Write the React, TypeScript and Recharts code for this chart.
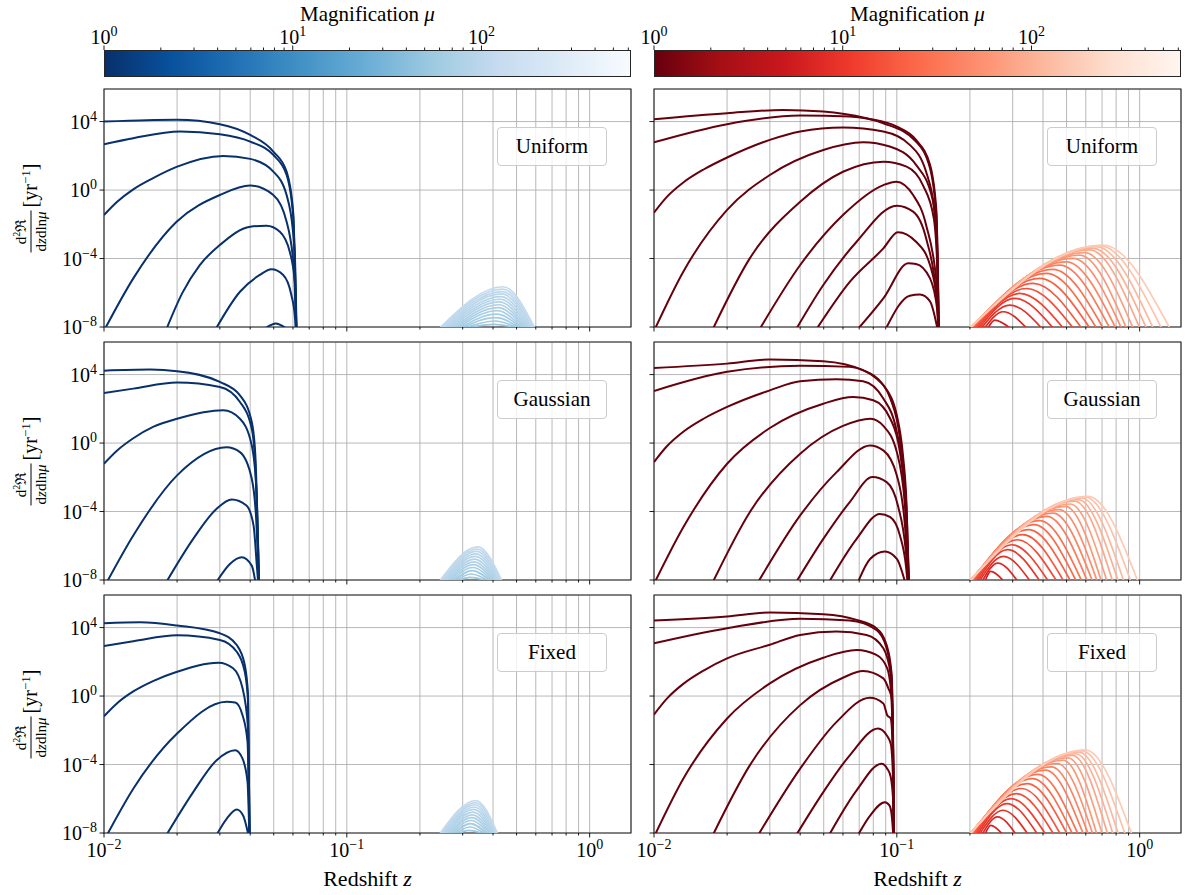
import {
  CartesianGrid,
  Line,
  LineChart,
  ReferenceArea,
  XAxis,
  YAxis,
} from "recharts";

// [redshift z, log10 of the differential rate]
type Pt = [number, number];
// [z where the arc leaves the floor, z of the peak, log10 peak, z where it returns]
type Arc = [number, number, number, number];

const Z_TICKS = [
  0.01, 0.02, 0.03, 0.04, 0.05, 0.06, 0.07, 0.08, 0.09, 0.1, 0.2, 0.3, 0.4,
  0.5, 0.6, 0.7, 0.8, 0.9, 1,
];
const RATE_TICKS = [1e-8, 1e-4, 1, 1e4];
const MU_TICKS = [
  1, 2, 3, 4, 5, 6, 7, 8, 9, 10, 20, 30, 40, 50, 60, 70, 80, 90, 100, 200, 300,
  400, 500, 600,
];
const Z_DOMAIN: [number, number] = [0.01, 1.48];
const RATE_DOMAIN: [number, number] = [1e-8, 8e5];
const MU_DOMAIN: [number, number] = [1, 620];
const FLOOR = -8.05;

// ---- low-magnification curves (dark) ----
const BLUE_UNIFORM: Pt[][] = [
  [[0.01, 4.0], [0.015, 4.08], [0.02, 4.1], [0.03, 3.85], [0.04, 3.22], [0.0498, 2.25], [0.0565, 1.08], [0.0601, -1.26], [0.0621, -9]],
  [[0.01, 2.68], [0.0132, 3.03], [0.0206, 3.42], [0.03, 3.26], [0.04, 2.83], [0.0498, 2.05], [0.0565, 0.88], [0.0601, -1.5], [0.0621, -9]],
  [[0.01, -1.46], [0.0113, -0.7], [0.0132, 0.04], [0.016, 0.71], [0.0199, 1.35], [0.031, 1.99], [0.04, 1.82], [0.0498, 1.08], [0.0565, -0.29], [0.061, -3.6], [0.0622, -9]],
  [[0.0101, -8.1], [0.0132, -5.16], [0.0199, -1.85], [0.03, -0.29], [0.04, 0.26], [0.0498, -0.29], [0.0565, -1.85], [0.0605, -4.56], [0.0622, -9]],
  [[0.0181, -8.1], [0.021, -6.02], [0.0248, -4.38], [0.03, -3.21], [0.04, -2.14], [0.0467, -2.08], [0.053, -2.43], [0.0582, -3.6], [0.0612, -5.5], [0.0622, -9]],
  [[0.0289, -8.1], [0.0363, -5.94], [0.0438, -4.96], [0.0489, -4.63], [0.0547, -4.96], [0.0591, -6.13], [0.0612, -7.5], [0.062, -9]],
  [[0.0459, -8.1], [0.051, -7.79], [0.0565, -8.1]],
];

const RED_UNIFORM: Pt[][] = [
  [[0.01, 4.14], [0.02, 4.49], [0.034, 4.68], [0.0498, 4.59], [0.075, 4.2], [0.1, 3.71], [0.12, 2.93], [0.137, 1.47], [0.1456, -1.26], [0.149, -9]],
  [[0.01, 2.79], [0.02, 3.85], [0.04, 4.35], [0.064, 4.3], [0.088, 3.9], [0.12, 2.83], [0.137, 1.27], [0.1456, -1.65], [0.149, -9]],
  [[0.01, -1.32], [0.0113, -0.4], [0.0132, 0.44], [0.016, 1.2], [0.02, 1.9], [0.03, 2.93], [0.04, 3.42], [0.06, 3.65], [0.088, 3.42], [0.113, 2.64], [0.132, 1.07], [0.145, -2.0], [0.149, -9]],
  [[0.0101, -8.1], [0.0132, -4.77], [0.02, -1.16], [0.03, 0.88], [0.0498, 2.34], [0.0726, 2.79], [0.0935, 2.54], [0.12, 1.47], [0.14, -0.48], [0.147, -3.6], [0.149, -9]],
  [[0.0175, -8.1], [0.0248, -3.99], [0.04, -0.68], [0.06, 1.07], [0.088, 1.66], [0.1097, 1.37], [0.128, 0.29], [0.142, -1.65], [0.147, -4.77], [0.149, -9]],
  [[0.0273, -8.1], [0.04, -4.38], [0.06, -1.46], [0.088, 0.29], [0.0994, 0.49], [0.1167, -0.29], [0.132, -2.04], [0.146, -5.55], [0.149, -9]],
  [[0.0386, -8.1], [0.0498, -5.55], [0.0683, -3.02], [0.1, -0.91], [0.1167, -1.26], [0.132, -2.82], [0.146, -6.33], [0.149, -9]],
  [[0.0468, -8.1], [0.064, -5.36], [0.088, -3.41], [0.101, -2.46], [0.12, -3.02], [0.137, -4.38], [0.147, -6.72], [0.149, -9]],
  [[0.0693, -8.1], [0.088, -6.33], [0.1114, -4.28], [0.12, -4.32], [0.137, -5.16], [0.147, -7.1], [0.149, -9]],
  [[0.0901, -8.1], [0.113, -6.17], [0.1245, -6.1], [0.137, -6.5], [0.147, -8.1]],
];

const BLUE_GAUSSIAN: Pt[][] = [
  [[0.01, 4.23], [0.0155, 4.29], [0.02, 4.2], [0.03, 3.57], [0.0363, 2.79], [0.0406, 1.23], [0.042, -0.72], [0.0436, -9]],
  [[0.01, 2.93], [0.0132, 3.18], [0.02, 3.53], [0.03, 3.28], [0.0363, 2.4], [0.0406, 0.84], [0.042, -1.31], [0.0436, -9]],
  [[0.01, -1.21], [0.0113, -0.45], [0.0132, 0.28], [0.016, 0.96], [0.02, 1.42], [0.031, 1.91], [0.0363, 1.42], [0.0406, -0.14], [0.0424, -2.67], [0.0436, -9]],
  [[0.0103, -8.1], [0.0132, -5.4], [0.02, -1.89], [0.032, -0.25], [0.0363, -0.53], [0.0406, -2.09], [0.0424, -4.62], [0.0436, -9]],
  [[0.0181, -8.1], [0.0233, -5.6], [0.0291, -3.84], [0.0336, -3.3], [0.0386, -3.65], [0.0413, -4.82], [0.0426, -7.16], [0.0436, -9]],
  [[0.0291, -8.1], [0.033, -7.06], [0.0369, -6.67], [0.0406, -7.16], [0.042, -8.1]],
];

const RED_GAUSSIAN: Pt[][] = [
  [[0.01, 4.39], [0.02, 4.64], [0.03, 4.88], [0.0498, 4.78], [0.0726, 4.25], [0.088, 3.38], [0.1, 1.62], [0.106, -0.72], [0.1097, -3.65], [0.1125, -9]],
  [[0.01, 3.04], [0.02, 4.16], [0.04, 4.51], [0.064, 4.45], [0.0824, 3.77], [0.094, 2.6], [0.103, 0.25], [0.1097, -4.04], [0.1125, -9]],
  [[0.01, -1.11], [0.0113, -0.19], [0.0132, 0.66], [0.016, 1.42], [0.02, 2.11], [0.03, 3.08], [0.04, 3.61], [0.0565, 3.73], [0.0726, 3.61], [0.088, 2.6], [0.1, 0.64], [0.108, -2.87], [0.1125, -9]],
  [[0.0101, -8.1], [0.0132, -4.92], [0.02, -1.21], [0.03, 0.88], [0.0498, 2.3], [0.066, 2.69], [0.08, 2.5], [0.094, 1.42], [0.103, -0.53], [0.109, -4.04], [0.1125, -9]],
  [[0.0175, -8.1], [0.0248, -4.04], [0.04, -0.62], [0.06, 1.0], [0.078, 1.42], [0.088, 1.0], [0.1, -0.53], [0.108, -3.65], [0.1125, -9]],
  [[0.0269, -8.1], [0.04, -4.23], [0.0565, -1.7], [0.0776, -0.14], [0.088, -0.43], [0.1, -1.89], [0.108, -4.82], [0.1125, -9]],
  [[0.0386, -8.1], [0.0498, -5.6], [0.064, -3.45], [0.0794, -1.99], [0.0908, -2.28], [0.101, -3.65], [0.109, -6.38], [0.1125, -9]],
  [[0.0527, -8.1], [0.0683, -5.6], [0.0851, -4.14], [0.094, -4.33], [0.103, -5.4], [0.109, -7.16], [0.112, -9]],
  [[0.0693, -8.1], [0.0776, -6.77], [0.0893, -6.34], [0.1, -6.77], [0.108, -8.1]],
];

const BLUE_FIXED: Pt[][] = [
  [[0.01, 4.25], [0.0141, 4.31], [0.02, 4.12], [0.03, 3.67], [0.0352, 2.98], [0.038, 1.81], [0.0392, 0.05], [0.0398, -9]],
  [[0.01, 2.93], [0.0132, 3.2], [0.02, 3.55], [0.03, 3.28], [0.0352, 2.59], [0.038, 1.42], [0.0392, -0.34], [0.0398, -9]],
  [[0.01, -1.18], [0.0113, -0.43], [0.0132, 0.27], [0.016, 0.89], [0.02, 1.42], [0.0296, 1.95], [0.034, 1.62], [0.0372, 0.45], [0.0392, -1.9], [0.0398, -9]],
  [[0.0103, -8.1], [0.0132, -5.41], [0.02, -2.19], [0.032, -0.34], [0.0347, -0.38], [0.0372, -1.12], [0.039, -2.68], [0.0398, -9]],
  [[0.0181, -8.1], [0.0233, -5.61], [0.0291, -3.75], [0.0347, -3.17], [0.0372, -3.66], [0.039, -5.02], [0.0398, -9]],
  [[0.0291, -8.1], [0.032, -7.17], [0.0352, -6.63], [0.0374, -6.98], [0.0393, -8.1]],
];

const RED_FIXED: Pt[][] = [
  [[0.01, 4.41], [0.02, 4.65], [0.03, 4.88], [0.0498, 4.78], [0.0683, 4.45], [0.0824, 3.96], [0.0908, 2.98], [0.0953, 1.23], [0.0975, -9]],
  [[0.01, 3.08], [0.02, 3.96], [0.04, 4.51], [0.064, 4.41], [0.0824, 3.86], [0.0908, 2.79], [0.0953, 0.84], [0.0975, -9]],
  [[0.01, -1.08], [0.0113, -0.15], [0.0132, 0.71], [0.016, 1.49], [0.02, 2.2], [0.03, 3.0], [0.04, 3.57], [0.0565, 3.77], [0.075, 3.57], [0.088, 2.79], [0.0944, 1.23], [0.0962, -1.5], [0.0975, -9]],
  [[0.0101, -8.1], [0.0132, -4.83], [0.02, -1.31], [0.03, 0.74], [0.0498, 2.24], [0.0683, 2.69], [0.0824, 2.4], [0.0913, 1.62], [0.0944, 0.45], [0.0962, -2.48], [0.0975, -9]],
  [[0.0175, -8.1], [0.0248, -4.05], [0.04, -0.53], [0.06, 1.07], [0.0726, 1.46], [0.088, 1.03], [0.0923, 0.45], [0.0953, -0.14], [0.0968, -3.46], [0.0975, -9]],
  [[0.0269, -8.1], [0.04, -4.24], [0.0565, -1.51], [0.0774, -0.1], [0.088, -0.43], [0.0913, -1.12], [0.0944, -1.31], [0.0968, -4.63], [0.0975, -9]],
  [[0.0386, -8.1], [0.0498, -5.61], [0.064, -3.46], [0.0837, -1.9], [0.0908, -2.29], [0.0944, -2.78], [0.0968, -5.41], [0.0975, -9]],
  [[0.0527, -8.1], [0.0683, -5.51], [0.0865, -3.95], [0.0913, -4.24], [0.0944, -4.73], [0.0968, -6.39], [0.0975, -9]],
  [[0.0693, -8.1], [0.0776, -6.98], [0.0893, -6.2], [0.0932, -6.39], [0.0953, -6.98], [0.0975, -9]],
];

// ---- high-magnification arcs (light) ----
const BLUE_UNIFORM_ARCS: Arc[] = [
  [0.311, 0.406, -7.85, 0.499],
  [0.305, 0.408, -7.65, 0.505],
  [0.298, 0.41, -7.45, 0.512],
  [0.292, 0.413, -7.25, 0.52],
  [0.286, 0.416, -7.05, 0.527],
  [0.28, 0.419, -6.87, 0.535],
  [0.274, 0.422, -6.7, 0.543],
  [0.268, 0.425, -6.53, 0.551],
  [0.262, 0.428, -6.38, 0.559],
  [0.257, 0.431, -6.22, 0.566],
  [0.252, 0.434, -6.07, 0.574],
  [0.248, 0.436, -5.93, 0.581],
  [0.244, 0.438, -5.79, 0.588],
  [0.2415, 0.44, -5.65, 0.594],
];

const BLUE_GAUSSIAN_ARCS: Arc[] = [
  [0.287, 0.322, -7.85, 0.378],
  [0.281, 0.325, -7.65, 0.384],
  [0.276, 0.328, -7.45, 0.39],
  [0.271, 0.33, -7.27, 0.396],
  [0.266, 0.332, -7.1, 0.402],
  [0.261, 0.334, -6.94, 0.408],
  [0.257, 0.336, -6.78, 0.413],
  [0.253, 0.338, -6.62, 0.418],
  [0.25, 0.34, -6.47, 0.423],
  [0.247, 0.342, -6.33, 0.427],
  [0.244, 0.344, -6.2, 0.431],
  [0.2415, 0.346, -6.07, 0.435],
];

const BLUE_FIXED_ARCS: Arc[] = [
  [0.287, 0.318, -7.85, 0.366],
  [0.281, 0.321, -7.65, 0.371],
  [0.276, 0.323, -7.45, 0.377],
  [0.271, 0.325, -7.27, 0.383],
  [0.266, 0.327, -7.1, 0.389],
  [0.261, 0.329, -6.94, 0.394],
  [0.257, 0.331, -6.78, 0.399],
  [0.253, 0.333, -6.62, 0.403],
  [0.25, 0.335, -6.48, 0.407],
  [0.247, 0.337, -6.35, 0.411],
  [0.244, 0.339, -6.22, 0.415],
  [0.2415, 0.34, -6.1, 0.418],
];

const RED_UNIFORM_ARCS: Arc[] = [
  [0.2375, 0.2531, -7.6, 0.2917],
  [0.23, 0.274, -7.11, 0.3418],
  [0.2231, 0.2917, -6.72, 0.3938],
  [0.2183, 0.306, -6.33, 0.4397],
  [0.214, 0.3208, -6.04, 0.4836],
  [0.2107, 0.3418, -5.75, 0.5317],
  [0.208, 0.364, -5.45, 0.5754],
  [0.206, 0.3877, -5.16, 0.6226],
  [0.2047, 0.413, -4.87, 0.6633],
  [0.2035, 0.4397, -4.63, 0.7065],
  [0.2022, 0.4686, -4.38, 0.7524],
  [0.2016, 0.4991, -4.19, 0.7966],
  [0.201, 0.5317, -3.99, 0.8405],
  [0.2003, 0.5663, -3.8, 0.881],
  [0.2, 0.5937, -3.66, 0.9384],
  [0.2, 0.6226, -3.5, 1.0],
  [0.2, 0.6427, -3.41, 1.065],
  [0.2, 0.6633, -3.31, 1.135],
  [0.2, 0.6846, -3.25, 1.228],
  [0.2, 0.7065, -3.21, 1.329],
];

const RED_GAUSSIAN_ARCS: Arc[] = [
  [0.2311, 0.2436, -7.5, 0.2747],
  [0.225, 0.2603, -7.01, 0.3137],
  [0.2192, 0.2747, -6.62, 0.3534],
  [0.2153, 0.2858, -6.23, 0.3878],
  [0.2117, 0.2972, -5.94, 0.42],
  [0.209, 0.3137, -5.65, 0.4547],
  [0.2067, 0.3307, -5.35, 0.4859],
  [0.205, 0.3487, -5.06, 0.5191],
  [0.2039, 0.3677, -4.77, 0.5475],
  [0.2029, 0.3878, -4.53, 0.5772],
  [0.2018, 0.415, -4.28, 0.6086],
  [0.2013, 0.44, -4.09, 0.6385],
  [0.2008, 0.467, -3.89, 0.6678],
  [0.2003, 0.495, -3.7, 0.695],
  [0.2, 0.518, -3.56, 0.7328],
  [0.2, 0.542, -3.4, 0.7731],
  [0.2, 0.559, -3.31, 0.815],
  [0.2, 0.577, -3.21, 0.8597],
  [0.2, 0.596, -3.15, 0.9186],
  [0.2, 0.615, -3.11, 0.9815],
];

const RED_FIXED_ARCS: Arc[] = [
  [0.2311, 0.2436, -7.55, 0.2716],
  [0.225, 0.2597, -7.06, 0.3085],
  [0.2192, 0.2736, -6.67, 0.3459],
  [0.2153, 0.2842, -6.28, 0.3788],
  [0.2117, 0.2952, -5.99, 0.4092],
  [0.209, 0.3109, -5.7, 0.4418],
  [0.2067, 0.3271, -5.4, 0.4711],
  [0.205, 0.3444, -5.11, 0.5023],
  [0.2039, 0.3625, -4.82, 0.5288],
  [0.2029, 0.3817, -4.58, 0.5566],
  [0.2018, 0.41, -4.33, 0.5858],
  [0.2013, 0.433, -4.14, 0.6136],
  [0.2008, 0.458, -3.94, 0.6408],
  [0.2003, 0.485, -3.75, 0.6659],
  [0.2, 0.507, -3.61, 0.7008],
  [0.2, 0.529, -3.46, 0.7378],
  [0.2, 0.546, -3.37, 0.7762],
  [0.2, 0.563, -3.27, 0.8169],
  [0.2, 0.58, -3.2, 0.8705],
  [0.2, 0.598, -3.15, 0.9275],
];

// matplotlib Blues_r / Reds_r
const BLUES_R = ["#08306b", "#08519c", "#2171b5", "#4292c6", "#6baed6", "#9ecae1", "#c6dbef", "#deebf7", "#f7fbff"];
const REDS_R = ["#67000d", "#a50f15", "#cb181d", "#ef3b2c", "#fb6a4a", "#fc9272", "#fcbba1", "#fee0d2", "#fff5f0"];

const FONT = '"Liberation Serif", "Times New Roman", "DejaVu Serif", serif';
const COL_X = [104, 654];
const ROW_Y = [89, 342, 595];
const PW = 527;
const PH = 238;
const Y_W = 100;
const M_TOP = 4;
const M_RIGHT = 4;
const CB_TOP = 50;
const CB_H = 27;

const hex = (c: string) => [1, 3, 5].map((i) => parseInt(c.slice(i, i + 2), 16));
function sample(stops: string[], t: number) {
  const p = Math.max(0, Math.min(1, t)) * (stops.length - 1);
  const i = Math.min(Math.floor(p), stops.length - 2);
  const f = p - i;
  const a = hex(stops[i]);
  const b = hex(stops[i + 1]);
  const c = a.map((v, k) => Math.round(v + (b[k] - v) * f));
  return `rgb(${c[0]},${c[1]},${c[2]})`;
}

const toRows = (pts: Pt[]) => pts.map(([z, e]) => ({ z, v: Math.pow(10, e) }));
const arcRows = ([z0, zp, ep, z1]: Arc) =>
  toRows([
    [z0, FLOOR],
    [zp, ep],
    [z1, FLOOR],
  ]);

const PANELS = [
  { col: 0, row: 0, name: "Uniform", curves: BLUE_UNIFORM, arcs: BLUE_UNIFORM_ARCS, stops: BLUES_R, dark: "#08306b", t0: 0.62, t1: 0.74 },
  { col: 1, row: 0, name: "Uniform", curves: RED_UNIFORM, arcs: RED_UNIFORM_ARCS, stops: REDS_R, dark: "#67000d", t0: 0.28, t1: 0.8 },
  { col: 0, row: 1, name: "Gaussian", curves: BLUE_GAUSSIAN, arcs: BLUE_GAUSSIAN_ARCS, stops: BLUES_R, dark: "#08306b", t0: 0.62, t1: 0.74 },
  { col: 1, row: 1, name: "Gaussian", curves: RED_GAUSSIAN, arcs: RED_GAUSSIAN_ARCS, stops: REDS_R, dark: "#67000d", t0: 0.28, t1: 0.8 },
  { col: 0, row: 2, name: "Fixed", curves: BLUE_FIXED, arcs: BLUE_FIXED_ARCS, stops: BLUES_R, dark: "#08306b", t0: 0.62, t1: 0.74 },
  { col: 1, row: 2, name: "Fixed", curves: RED_FIXED, arcs: RED_FIXED_ARCS, stops: REDS_R, dark: "#67000d", t0: 0.28, t1: 0.8 },
];

const isDecade = (v: number) => Math.abs(Math.log10(v) - Math.round(Math.log10(v))) < 1e-6;

function Pow10({ v, ...rest }: any) {
  const e = Math.round(Math.log10(v));
  return (
    <text fontFamily={FONT} fontSize={20} fill="#000" {...rest}>
      10
      <tspan dy={-8} fontSize={14}>
        {e < 0 ? `\u2212${-e}` : `${e}`}
      </tspan>
    </text>
  );
}

function ZTick({ x, y, payload, labels }: any) {
  const major = isDecade(payload.value);
  return (
    <g>
      <line x1={x} x2={x} y1={y} y2={y + (major ? 4.5 : 2.5)} stroke="#000" strokeWidth={0.9} />
      {labels && major && <Pow10 v={payload.value} x={x} y={y + 24} textAnchor="middle" />}
    </g>
  );
}

function RateTick({ x, y, payload, labels }: any) {
  return (
    <g>
      <line x1={x - 4.5} x2={x} y1={y} y2={y} stroke="#000" strokeWidth={0.9} />
      {labels && <Pow10 v={payload.value} x={x - 7} y={y + 7} textAnchor="end" />}
    </g>
  );
}

function MuTick({ x, y, payload }: any) {
  const major = isDecade(payload.value);
  return (
    <g>
      <line x1={x} x2={x} y1={y} y2={y - (major ? 4.5 : 2.5)} stroke="#000" strokeWidth={0.9} />
      {major && <Pow10 v={payload.value} x={x} y={y - 6} textAnchor="middle" />}
    </g>
  );
}

function Panel({ p }: { p: (typeof PANELS)[number] }) {
  const bottomRow = p.row === 2;
  const xh = bottomRow ? 40 : 16;
  const n = p.arcs.length;
  return (
    <div style={{ position: "absolute", left: COL_X[p.col] - Y_W, top: ROW_Y[p.row] - M_TOP }}>
      <LineChart
        width={Y_W + PW + M_RIGHT}
        height={M_TOP + PH + xh}
        margin={{ top: M_TOP, right: M_RIGHT, bottom: 0, left: 0 }}
      >
        <CartesianGrid stroke="#b0b0b0" strokeWidth={0.9} />
        <XAxis
          dataKey="z"
          type="number"
          scale="log"
          domain={Z_DOMAIN}
          allowDataOverflow
          ticks={Z_TICKS}
          interval={0}
          height={xh}
          tickSize={0}
          tickMargin={0}
          axisLine={false}
          tickLine={false}
          tick={(t: any) => <ZTick {...t} labels={bottomRow} />}
        />
        <YAxis
          type="number"
          scale="log"
          domain={RATE_DOMAIN}
          allowDataOverflow
          ticks={RATE_TICKS}
          interval={0}
          width={Y_W}
          tickSize={0}
          tickMargin={0}
          axisLine={false}
          tickLine={false}
          tick={(t: any) => <RateTick {...t} labels={p.col === 0} />}
        />
        {p.arcs.map((a, i) => (
          <Line
            key={`arc${i}`}
            data={arcRows(a)}
            dataKey="v"
            type="monotone"
            stroke={sample(p.stops, p.t0 + ((p.t1 - p.t0) * i) / (n - 1))}
            strokeWidth={1.7}
            dot={false}
            isAnimationActive={false}
          />
        ))}
        {p.curves.map((c, i) => (
          <Line
            key={`mu${i}`}
            data={toRows(c)}
            dataKey="v"
            type="monotone"
            stroke={p.dark}
            strokeWidth={2}
            dot={false}
            isAnimationActive={false}
          />
        ))}
        <ReferenceArea
          x1={Z_DOMAIN[0]}
          x2={Z_DOMAIN[1]}
          y1={RATE_DOMAIN[0]}
          y2={RATE_DOMAIN[1]}
          fill="none"
          stroke="#262626"
          strokeWidth={1.1}
        />
      </LineChart>
      <div
        style={{
          position: "absolute",
          left: Y_W + PW - 24 - 110,
          top: M_TOP + 38,
          width: 110,
          height: 39,
          boxSizing: "border-box",
          border: "1px solid #cccccc",
          borderRadius: 4,
          background: "rgba(255,255,255,0.8)",
          display: "flex",
          alignItems: "center",
          justifyContent: "center",
          fontFamily: FONT,
          fontSize: 21,
        }}
      >
        {p.name}
      </div>
    </div>
  );
}

const CB_DATA = [{ m: MU_DOMAIN[0] }, { m: MU_DOMAIN[1] }];

// colour bar: gradient strip with a log magnification axis along its top edge
function ColorBar({ col, stops }: { col: number; stops: string[] }) {
  const axisH = 34;
  const padL = 30;
  return (
    <>
      <div
        style={{
          position: "absolute",
          left: COL_X[col],
          top: CB_TOP,
          width: PW,
          height: CB_H,
          boxSizing: "border-box",
          border: "1px solid #262626",
          background: `linear-gradient(to right, ${stops.join(", ")})`,
        }}
      />
      <div style={{ position: "absolute", left: COL_X[col] - padL, top: CB_TOP - axisH }}>
        <LineChart
          width={padL + PW + 30}
          height={axisH + CB_H}
          data={CB_DATA}
          margin={{ top: 0, right: 30, bottom: 0, left: padL }}
        >
          <XAxis
            dataKey="m"
            type="number"
            scale="log"
            orientation="top"
            domain={MU_DOMAIN}
            allowDataOverflow
            ticks={MU_TICKS}
            interval={0}
            height={axisH}
            tickSize={0}
            tickMargin={0}
            axisLine={false}
            tickLine={false}
            tick={(t: any) => <MuTick {...t} />}
          />
          <YAxis hide type="number" domain={[0, 1]} />
        </LineChart>
      </div>
      <div
        style={{
          position: "absolute",
          left: COL_X[col] + PW / 2,
          top: 3,
          transform: "translateX(-50%)",
          fontFamily: FONT,
          fontSize: 21,
          lineHeight: "22px",
          whiteSpace: "nowrap",
        }}
      >
        Magnification <i>μ</i>
      </div>
    </>
  );
}

function RateLabel({ row }: { row: number }) {
  return (
    <div
      style={{
        position: "absolute",
        left: 30,
        top: ROW_Y[row] + PH / 2,
        transform: "translate(-50%, -50%) rotate(-90deg)",
        display: "flex",
        alignItems: "center",
        whiteSpace: "nowrap",
        fontFamily: FONT,
      }}
    >
      <span style={{ display: "inline-flex", flexDirection: "column", alignItems: "center", fontSize: 15, lineHeight: 1 }}>
        <span style={{ padding: "0 1px 2px" }}>
          d<sup style={{ fontSize: 10 }}>2</sup>ℜ
        </span>
        <span style={{ borderTop: "1px solid #000", padding: "2px 1px 0" }}>
          d<i>z</i>dln<i>μ</i>
        </span>
      </span>
      <span style={{ fontSize: 20, marginLeft: 3 }}>
        [yr<sup style={{ fontSize: 13 }}>−1</sup>]
      </span>
    </div>
  );
}

function ZLabel({ col }: { col: number }) {
  return (
    <div
      style={{
        position: "absolute",
        left: COL_X[col] + PW / 2,
        top: 868,
        transform: "translateX(-50%)",
        fontFamily: FONT,
        fontSize: 22,
        lineHeight: "22px",
        whiteSpace: "nowrap",
      }}
    >
      Redshift <i>z</i>
    </div>
  );
}

export default function App() {
  return (
    <div
      style={{
        position: "absolute",
        left: 0,
        top: 0,
        width: 1194,
        height: 895,
        background: "#fff",
        overflow: "hidden",
      }}
    >
      <ColorBar col={0} stops={BLUES_R} />
      <ColorBar col={1} stops={REDS_R} />
      {PANELS.map((p, i) => (
        <Panel key={i} p={p} />
      ))}
      {[0, 1, 2].map((r) => (
        <RateLabel key={r} row={r} />
      ))}
      <ZLabel col={0} />
      <ZLabel col={1} />
    </div>
  );
}
